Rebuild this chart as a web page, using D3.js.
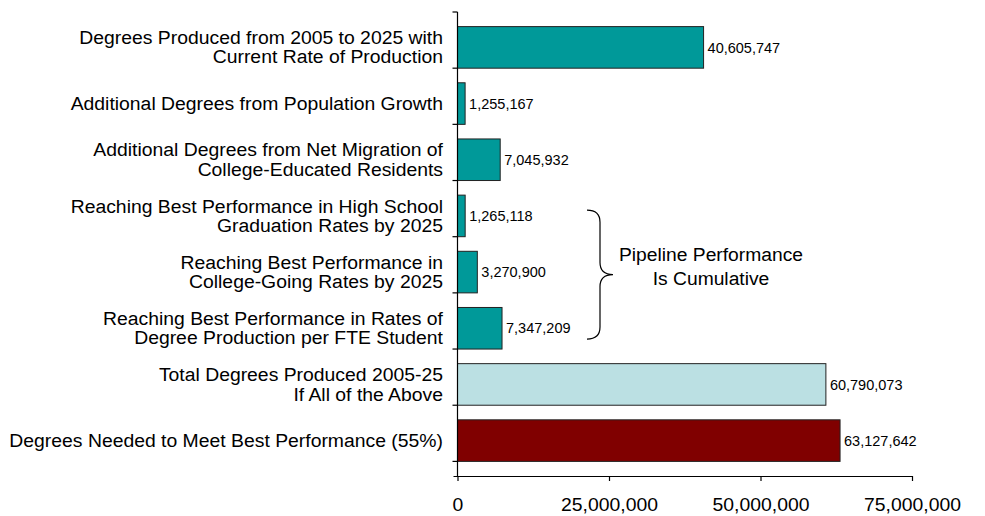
<!DOCTYPE html>
<html>
<head>
<meta charset="utf-8">
<script src="https://cdn.jsdelivr.net/npm/d3@7"></script>
<style>
  html, body { margin: 0; padding: 0; background: #fff; }
  svg { display: block; font-family: "Liberation Sans", Arial, Helvetica, sans-serif; }
</style>
</head>
<body>
<svg id="chart" width="985" height="516"></svg>
<script>
// ---- data ----
const categories = [
  ["Degrees Produced from 2005 to 2025 with", "Current Rate of Production"],
  ["Additional Degrees from Population Growth"],
  ["Additional Degrees from Net Migration of", "College-Educated Residents"],
  ["Reaching Best Performance in High School", "Graduation Rates by 2025"],
  ["Reaching Best Performance in", "College-Going Rates by 2025"],
  ["Reaching Best Performance in Rates of", "Degree Production per FTE Student"],
  ["Total Degrees Produced 2005-25", "If All of the Above"],
  ["Degrees Needed to Meet Best Performance (55%)"]
];
const values = [40605747, 1255167, 7045932, 1265118, 3270900, 7347209, 60790073, 63127642];
const barColors = ["#009999", "#009999", "#009999", "#009999", "#009999", "#009999", "#BBE0E3", "#800000"];
const xTicks = [0, 25000000, 50000000, 75000000];
const annotation = ["Pipeline Performance", "Is Cumulative"];

// ---- layout ----
const svg = d3.select("#chart");
const x0 = 457.5, x1 = 912, yTop = 12, yBot = 476;
const stretch = 1.1; // reference text is slightly wide

const x = d3.scaleLinear().domain([0, 75000000]).range([x0, x1]);
const y = d3.scaleBand().domain(d3.range(categories.length)).range([yTop, yBot]).padding(0.26);
const fmt = d3.format(",");

// bars
svg.append("g").selectAll("rect")
  .data(values)
  .join("rect")
  .attr("x", x(0))
  .attr("y", (d, i) => y(i))
  .attr("width", d => x(d) - x(0))
  .attr("height", y.bandwidth())
  .attr("fill", (d, i) => barColors[i])
  .attr("stroke", "#222")
  .attr("stroke-width", 1);

// value labels
svg.append("g").selectAll("text")
  .data(values)
  .join("text")
  .attr("x", d => x(d) + 4)
  .attr("y", (d, i) => y(i) + y.bandwidth() / 2)
  .attr("dy", "0.36em")
  .attr("font-size", 14.5)
  .attr("fill", "#000")
  .text(d => fmt(d));

// y axis (category axis) line + ticks at band boundaries
const yAxisG = svg.append("g");
yAxisG.append("line")
  .attr("x1", x0).attr("x2", x0)
  .attr("y1", yTop).attr("y2", yBot)
  .attr("stroke", "#000").attr("stroke-width", 1.2);
const step = y.step();
yAxisG.selectAll("line.tk")
  .data(d3.range(categories.length + 1))
  .join("line")
  .attr("class", "tk")
  .attr("x1", x0 - 5).attr("x2", x0)
  .attr("y1", i => yTop + i * step).attr("y2", i => yTop + i * step)
  .attr("stroke", "#000").attr("stroke-width", 1.2);

// category labels
const catG = svg.append("g");
categories.forEach((lines, i) => {
  const cy = y(i) + y.bandwidth() / 2;
  const lh = 19.5;
  const t = catG.append("text")
    .attr("text-anchor", "end")
    .attr("font-size", 17.6)
    .attr("transform", `translate(443,${cy}) scale(${stretch},1)`)
    .attr("fill", "#000");
  lines.forEach((ln, j) => {
    t.append("tspan")
      .attr("x", 0)
      .attr("y", (j - (lines.length - 1) / 2) * lh)
      .attr("dy", "0.36em")
      .text(ln);
  });
});

// x axis
const xAxis = d3.axisBottom(x)
  .tickValues(xTicks)
  .tickFormat(d => fmt(d))
  .tickSizeInner(5)
  .tickSizeOuter(0);
const xg = svg.append("g")
  .attr("transform", `translate(0,${yBot})`)
  .call(xAxis);
xg.select(".domain").attr("stroke", "#000").attr("stroke-width", 1.2)
  .attr("d", `M${x0 - 4},0.5H${x1}`);
xg.selectAll(".tick line").attr("stroke", "#000").attr("stroke-width", 1.2);
xg.selectAll(".tick text")
  .attr("font-size", 17.6)
  .attr("font-family", "\"Liberation Sans\", Arial, sans-serif")
  .attr("y", 35.5)
  .attr("dy", 0)
  .attr("transform", `scale(${stretch},1)`)
  .attr("fill", "#000");

// brace annotation spanning the pipeline bars (indices 3..5)
const bTop = y(3) + 15, bBot = y(5) + y.bandwidth() - 10;
const bMid = (bTop + bBot) / 2;
const bx = 587, bw = 13;
const bracePath = `M${bx},${bTop}
  Q${bx + bw},${bTop} ${bx + bw},${bTop + 12}
  L${bx + bw},${bMid - 12}
  Q${bx + bw},${bMid} ${bx + bw + 13},${bMid}
  Q${bx + bw},${bMid} ${bx + bw},${bMid + 12}
  L${bx + bw},${bBot - 12}
  Q${bx + bw},${bBot} ${bx},${bBot}`;
svg.append("path")
  .attr("d", bracePath)
  .attr("fill", "none")
  .attr("stroke", "#000")
  .attr("stroke-width", 1.2);

const at = svg.append("text")
  .attr("text-anchor", "middle")
  .attr("font-size", 18)
  .attr("transform", `translate(711,0) scale(1.07,1)`)
  .attr("fill", "#000");
annotation.forEach((ln, j) => {
  at.append("tspan")
    .attr("x", 0)
    .attr("y", 261 + j * 24)
    .text(ln);
});
</script>
</body>
</html>
